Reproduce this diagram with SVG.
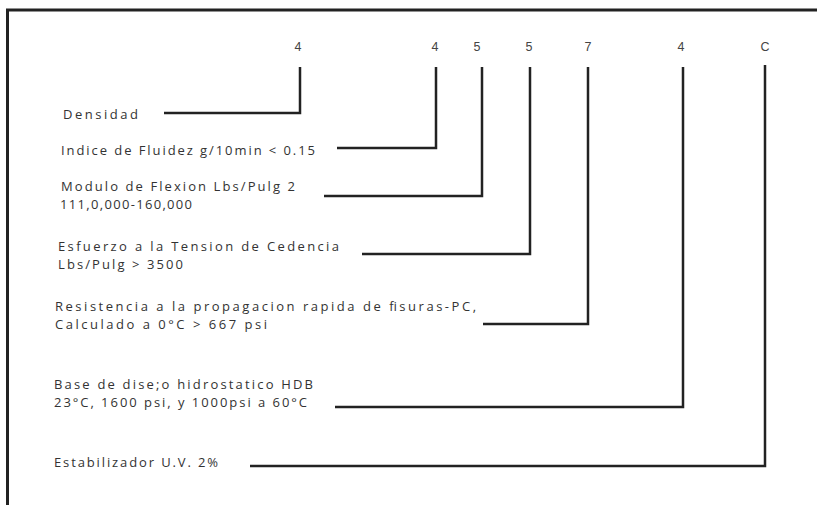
<svg xmlns="http://www.w3.org/2000/svg" width="817" height="505" viewBox="0 0 817 505">
<style>
.lbl{font-family:"Open Sans","Liberation Sans",sans-serif;font-size:13px;fill:#333;}
.dig{font-family:"Liberation Sans",Arial,sans-serif;font-size:12.5px;fill:#444;text-anchor:middle;}
.con{fill:none;stroke:#222;stroke-width:2.5;stroke-linejoin:miter;}
.frame{fill:none;stroke:#222;stroke-width:3;}
</style>
<rect width="817" height="505" fill="#fff"/>
<path class="frame" d="M7.5,505 V10 H817"/>
<g id="codes">
<text class="dig" x="298" y="51">4</text>
<text class="dig" x="435" y="51">4</text>
<text class="dig" x="477" y="51">5</text>
<text class="dig" x="529" y="51">5</text>
<text class="dig" x="588" y="51">7</text>
<text class="dig" x="681" y="51">4</text>
<text class="dig" x="765" y="51">C</text>
</g>
<g id="connectors">
<path class="con" d="M164,113 H300 V67"/>
<path class="con" d="M337,148 H436 V67"/>
<path class="con" d="M324,196 H482 V67"/>
<path class="con" d="M362,254 H530 V67"/>
<path class="con" d="M483,324 H588 V67"/>
<path class="con" d="M335,407 H683 V67"/>
<path class="con" d="M250,466 H765 V65"/>
</g>
<g id="densidad"><text class="lbl" x="63" y="119" textLength="75" lengthAdjust="spacing">Densidad</text></g>
<g id="fluidez"><text class="lbl" x="61" y="155" textLength="254" lengthAdjust="spacing">Indice de Fluidez g/10min &lt; 0.15</text></g>
<g id="flexion">
<text class="lbl" x="61" y="190.5" textLength="234" lengthAdjust="spacing">Modulo de Flexion Lbs/Pulg 2</text>
<text class="lbl" x="60" y="208.5" textLength="132" lengthAdjust="spacing">111,0,000-160,000</text>
</g>
<g id="esfuerzo">
<text class="lbl" x="58" y="250.5" textLength="281" lengthAdjust="spacing">Esfuerzo a la Tension de Cedencia</text>
<text class="lbl" x="58" y="268.5" textLength="125" lengthAdjust="spacing">Lbs/Pulg &gt; 3500</text>
</g>
<g id="resistencia">
<text class="lbl" x="55" y="310.5" textLength="421" lengthAdjust="spacing">Resistencia a la propagacion rapida de fisuras-PC,</text>
<text class="lbl" x="55" y="328.5" textLength="212" lengthAdjust="spacing">Calculado a 0°C &gt; 667 psi</text>
</g>
<g id="hdb">
<text class="lbl" x="54" y="388.5" textLength="259" lengthAdjust="spacing">Base de dise;o hidrostatico HDB</text>
<text class="lbl" x="54" y="406.5" textLength="253" lengthAdjust="spacing">23°C, 1600 psi, y 1000psi a 60°C</text>
</g>
<g id="uv"><text class="lbl" x="54" y="467" textLength="164" lengthAdjust="spacing">Estabilizador U.V. 2%</text></g>
</svg>
